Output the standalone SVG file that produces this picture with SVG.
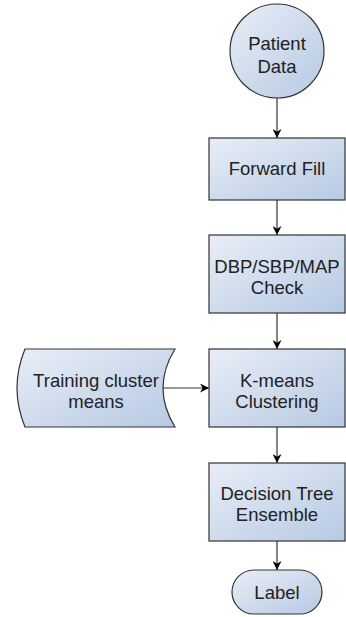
<svg xmlns="http://www.w3.org/2000/svg" width="346" height="617" viewBox="0 0 346 617">
<defs>
<linearGradient id="g" x1="0" y1="0" x2="1" y2="1" gradientUnits="objectBoundingBox">
<stop offset="0" stop-color="#e8eef7"/>
<stop offset="1" stop-color="#b7c9e3"/>
</linearGradient>
<marker id="ah" viewBox="0 0 10 10" refX="10" refY="5" markerWidth="9" markerHeight="9" markerUnits="userSpaceOnUse" orient="auto">
<path d="M0,0 L10,5 L0,10 L3,5 z" fill="#000"/>
</marker>
<style>
.n{fill:url(#g);stroke:#333;stroke-width:1.2}
.t{font-family:"Liberation Sans",Arial,sans-serif;font-size:18.5px;fill:#222;text-anchor:middle}
.c{stroke:#333;stroke-width:1.2;fill:none;marker-end:url(#ah)}
</style>
</defs>
<g id="connectors">
<line class="c" x1="277" y1="98" x2="277" y2="138"/>
<line class="c" x1="277" y1="200" x2="277" y2="235"/>
<line class="c" x1="277" y1="313" x2="277" y2="349"/>
<line class="c" x1="163" y1="388" x2="209" y2="388"/>
<line class="c" x1="277" y1="427" x2="277" y2="463"/>
<line class="c" x1="277" y1="541" x2="277" y2="570"/>
</g>
<g id="patient-data">
<circle class="n" cx="277" cy="51" r="47"/>
<text class="t" x="277" y="50">Patient</text>
<text class="t" x="277" y="73">Data</text>
</g>
<g id="forward-fill">
<rect class="n" x="209" y="138" width="136" height="62"/>
<text class="t" x="277" y="175">Forward Fill</text>
</g>
<g id="bp-check">
<rect class="n" x="209" y="235" width="136" height="78"/>
<text class="t" x="277" y="273">DBP/SBP/MAP</text>
<text class="t" x="277" y="294">Check</text>
</g>
<g id="kmeans">
<rect class="n" x="209" y="349" width="136" height="78"/>
<text class="t" x="277" y="387">K-means</text>
<text class="t" x="277" y="408">Clustering</text>
</g>
<g id="training-means">
<path class="n" d="M25,349 L175,349 Q151,388 175,427 L25,427 Q9,388 25,349 Z"/>
<text class="t" x="96" y="387">Training cluster</text>
<text class="t" x="96" y="408">means</text>
</g>
<g id="decision-tree">
<rect class="n" x="209" y="463" width="136" height="78"/>
<text class="t" x="277" y="500">Decision Tree</text>
<text class="t" x="277" y="521">Ensemble</text>
</g>
<g id="label">
<rect class="n" x="232" y="570" width="90" height="44" rx="22"/>
<text class="t" x="277" y="599">Label</text>
</g>
</svg>
